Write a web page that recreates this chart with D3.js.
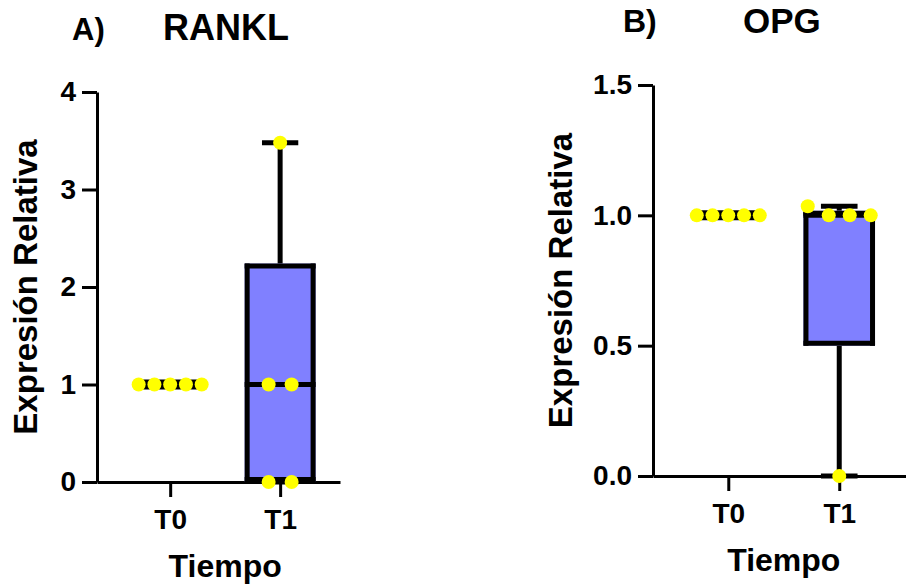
<!DOCTYPE html>
<html>
<head>
<meta charset="utf-8">
<script src="https://cdn.jsdelivr.net/npm/d3@7"></script>
<style>
  body { margin: 0; background: #fff; }
  text { font-family: "Liberation Sans", Arial, sans-serif; font-weight: bold; fill: #000; }
</style>
</head>
<body>
<div id="chart"></div>
<script>
// data
const groups = ["T0", "T1"];
const ranklT0 = [1, 1, 1, 1, 1];
const ranklT1 = [0, 0, 1, 1, 3.48];
const opgT0 = [1, 1, 1, 1, 1];
const opgT1 = [1.035, 1, 1, 1, 0];
const ranklTicks = [0, 1, 2, 3, 4];
const opgTicks = [0, 0.5, 1.0, 1.5];

const width = 906;
const height = 586;
const boxFill = "#8080ff";
const dotFill = "#ffff00";
const sw = 5; // box / whisker stroke

const svg = d3.select("#chart").append("svg")
  .attr("width", width)
  .attr("height", height);

// quartiles like Prism: (n+1) percentile rule
function quant(sorted, p) {
  const n = sorted.length;
  let pos = p * (n + 1) - 1;
  pos = Math.max(0, Math.min(n - 1, pos));
  const lo = Math.floor(pos), hi = Math.ceil(pos);
  return sorted[lo] + (sorted[hi] - sorted[lo]) * (pos - lo);
}

function boxStats(values) {
  const s = values.slice().sort(d3.ascending);
  return {
    min: s[0],
    q1: quant(s, 0.25),
    med: quant(s, 0.5),
    q3: quant(s, 0.75),
    max: s[s.length - 1]
  };
}

const panels = [
  {
    letter: "A)", letterPos: [72, 40], letterSize: 31,
    title: "RANKL", titlePos: [163, 40], titleSize: 36,
    series: [ranklT0, ranklT1], ticks: ranklTicks, fmt: d3.format("d"),
    domain: [0, 4], xRange: [97, 340], yRange: [482, 92], labelX: 37,
    pad: 0.605, align: 0.55
  },
  {
    letter: "B)", letterPos: [623, 32], letterSize: 32,
    title: "OPG", titlePos: [743, 33], titleSize: 35,
    series: [opgT0, opgT1], ticks: opgTicks, fmt: d3.format(".1f"),
    domain: [0, 1.5], xRange: [653, 906], yRange: [476, 85], labelX: 572,
    pad: 0.64, align: 0.53
  }
];

panels.forEach(function (p) {
  const g = svg.append("g");

  const x = d3.scalePoint()
    .domain(groups)
    .range(p.xRange)
    .padding(p.pad)
    .align(p.align);

  const y = d3.scaleLinear()
    .domain(p.domain)
    .range(p.yRange);

  const step = x.step();
  const boxW = step * 0.645;
  const capW = step * 0.33;
  const r = 7;

  // titles
  g.append("text")
    .attr("x", p.letterPos[0]).attr("y", p.letterPos[1])
    .style("font-size", p.letterSize + "px")
    .text(p.letter);
  g.append("text")
    .attr("x", p.titlePos[0]).attr("y", p.titlePos[1])
    .style("font-size", p.titleSize + "px")
    .text(p.title);

  // y axis
  const yAxis = g.append("g")
    .attr("transform", `translate(${p.xRange[0]},0)`)
    .call(d3.axisLeft(y).tickValues(p.ticks).tickFormat(p.fmt)
      .tickSize(15).tickSizeOuter(0).tickPadding(6));
  yAxis.selectAll("path, line").attr("stroke", "#000").attr("stroke-width", 3);
  yAxis.selectAll("text").style("font-size", "28px").attr("font-family", null);

  // x axis
  const xAxis = g.append("g")
    .attr("transform", `translate(0,${p.yRange[0]})`)
    .call(d3.axisBottom(x).tickSize(15).tickSizeOuter(0).tickPadding(12));
  xAxis.selectAll("path, line").attr("stroke", "#000").attr("stroke-width", 3);
  xAxis.selectAll("text").style("font-size", "28px").attr("font-family", null);

  // axis titles
  const yMid = (p.yRange[0] + p.yRange[1]) / 2;
  g.append("text")
    .attr("transform", `translate(${p.labelX},${yMid}) rotate(-90)`)
    .attr("text-anchor", "middle")
    .style("font-size", "33px")
    .text("Expresión Relativa");
  g.append("text")
    .attr("x", (x(groups[0]) + x(groups[1])) / 2)
    .attr("y", p.yRange[0] + 95)
    .attr("text-anchor", "middle")
    .style("font-size", "32px")
    .text("Tiempo");

  // boxes
  p.series.forEach(function (vals, i) {
    const cx = x(groups[i]);
    const st = boxStats(vals);
    const bg = g.append("g");
    const hline = (x1, x2, yy) => bg.append("line")
      .attr("x1", x1).attr("x2", x2).attr("y1", yy).attr("y2", yy)
      .attr("stroke", "#000").attr("stroke-width", sw);
    const vline = (xx, y1, y2) => bg.append("line")
      .attr("x1", xx).attr("x2", xx).attr("y1", y1).attr("y2", y2)
      .attr("stroke", "#000").attr("stroke-width", sw);

    // whiskers with caps
    vline(cx, y(st.q3), y(st.max));
    vline(cx, y(st.q1), y(st.min));
    hline(cx - capW / 2, cx + capW / 2, y(st.max));
    hline(cx - capW / 2, cx + capW / 2, y(st.min));

    // box, border drawn on the inside
    const bl = cx - boxW / 2, br = cx + boxW / 2;
    bg.append("rect")
      .attr("x", bl).attr("y", y(st.q3))
      .attr("width", boxW).attr("height", Math.max(0, y(st.q1) - y(st.q3)))
      .attr("fill", boxFill);
    hline(bl, br, y(st.q3) + sw / 2);
    hline(bl, br, y(st.q1) - sw / 2);
    if (y(st.q1) - y(st.q3) > 0) {
      vline(bl + sw / 2, y(st.q3), y(st.q1));
      vline(br - sw / 2, y(st.q3), y(st.q1));
    }
    hline(bl, br, y(st.med));

    // points, laid out in rows like a swarm
    const rows = [];
    vals.forEach(function (v) {
      const row = rows.find((rw) => Math.abs(y(rw[0]) - y(v)) < 2 * r);
      if (row) row.push(v); else rows.push([v]);
    });
    rows.forEach(function (rw) {
      const gap = rw.length > 1 ? Math.min(23, 63 / (rw.length - 1)) : 0;
      rw.forEach(function (v, k) {
        bg.append("circle")
          .attr("cx", cx + (k - (rw.length - 1) / 2) * gap)
          .attr("cy", y(v))
          .attr("r", r)
          .attr("fill", dotFill);
      });
    });
  });
});
</script>
</body>
</html>
